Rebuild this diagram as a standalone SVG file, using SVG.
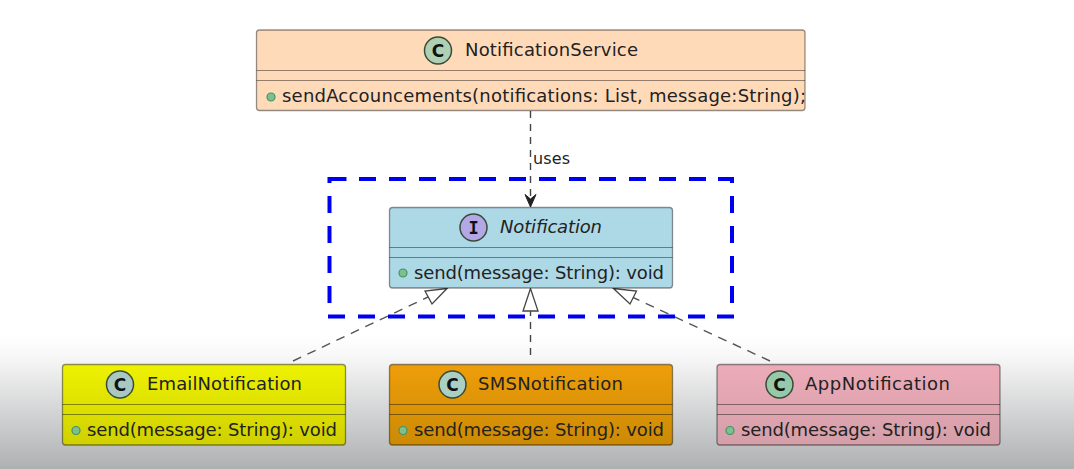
<svg xmlns="http://www.w3.org/2000/svg" width="1074" height="469" viewBox="0 0 1074 469">
<style>
text{font-family:"DejaVu Sans",sans-serif;fill:#222;font-size:18px}
.box{stroke:#000;stroke-opacity:.42;stroke-width:1.3}
.sep{stroke:#000;stroke-opacity:.42;stroke-width:1.2;fill:none}
.icon{stroke:#3a4a3a;stroke-width:1.5}
text.glyph{font-weight:bold;font-size:17px;text-anchor:middle;fill:#111}
text.mono{font-family:"DejaVu Sans Mono",monospace}
.dot{fill:#7fbf8c;stroke:#3f9468;stroke-width:1.2}
.dep{fill:none;stroke:#444;stroke-width:1.4}
.vert{stroke-dasharray:7 6}
.diag{stroke:#555;stroke-dasharray:9 7}
.tri{fill:#fff;stroke:#444;stroke-width:1.3}
.hl{fill:none;stroke:#0000f0;stroke-width:4}
.hld{stroke-dasharray:17 13}
</style>
<defs>
<linearGradient id="bg" gradientUnits="userSpaceOnUse" x1="0" y1="335" x2="0" y2="469">
<stop offset="0" stop-color="#fff"/>
<stop offset=".15" stop-color="#f8f8f8"/>
<stop offset="1" stop-color="#aeb0b2"/>
</linearGradient>
<linearGradient id="yellow" x1="0" y1="0" x2="0" y2="1"><stop offset="0" stop-color="#eef200"/><stop offset="1" stop-color="#cfd000"/></linearGradient>
<linearGradient id="orange" x1="0" y1="0" x2="0" y2="1"><stop offset="0" stop-color="#ee9e0a"/><stop offset="1" stop-color="#cc8a04"/></linearGradient>
<linearGradient id="pink" x1="0" y1="0" x2="0" y2="1"><stop offset="0" stop-color="#edabb8"/><stop offset="1" stop-color="#d49fa9"/></linearGradient>
</defs>
<rect width="1074" height="469" fill="url(#bg)"/>
<g id="connectors">
<path class="dep vert" d="M530.500 111V200"/>
<path d="M530.500 207L525 194.500L530.500 199L536 194.500Z" fill="#222" stroke="#222" stroke-width="1"/>
<path class="dep diag" d="M293 361L428 297"/>
<path class="tri" d="M447 288.500L425 291L432 304Z"/>
<path class="dep vert" d="M530.500 355V311"/>
<path class="tri" d="M530.500 288.500L523 311H538Z"/>
<path class="dep diag" d="M770 361L632 297"/>
<path class="tri" d="M613.500 288.500L636.500 291L630 304Z"/>
<text x="533" y="164" style="font-size:16px" textLength="37">uses</text>
</g>
<g id="highlight">
<path class="hl" d="M346.500 179H329.500V183"/>
<path class="hl hld" d="M359 179H707"/>
<path class="hl" d="M718 179H732V183"/>
<path class="hl hld" d="M329.500 196V303"/>
<path class="hl hld" d="M732 196V303"/>
<path class="hl hld" d="M328 316.500H706"/>
<path class="hl" d="M717 316.500H734"/>
</g>
<g id="NotificationService">
<rect class="box" x="256.500" y="30" width="548.500" height="80.500" rx="3" fill="#ffdab9"/>
<path class="sep" d="M256.500 70.500H805M256.500 80.500H805"/>
<circle class="icon" cx="438" cy="50.500" r="13.500" fill="#add1b2"/>
<text class="glyph" x="438" y="56.500">C</text>
<text x="465" y="56" textLength="173">NotificationService</text>
<circle class="dot" cx="271" cy="97" r="4"/>
<text x="282" y="102" textLength="524">sendAccouncements(notifications: List, message:String);</text>
</g>
<g id="Notification">
<rect class="box" x="389.500" y="207.500" width="283" height="80.500" rx="3" fill="#add8e6"/>
<path class="sep" d="M389.500 247.500H672.500M389.500 257.500H672.500"/>
<circle class="icon" cx="473.500" cy="227.500" r="13.500" fill="#b4a7e5"/>
<text class="glyph mono" x="473.500" y="233.500">I</text>
<text x="500" y="233" font-style="italic" textLength="102">Notification</text>
<circle class="dot" cx="403" cy="273" r="4"/>
<text x="414" y="279" textLength="250">send(message: String): void</text>
</g>
<g id="EmailNotification">
<rect class="box" x="62.500" y="364.500" width="283" height="80.500" rx="3" fill="url(#yellow)"/>
<path class="sep" d="M62.500 404.500H345.500M62.500 414.500H345.500"/>
<circle class="icon" cx="120" cy="384.500" r="13.500" fill="#a9c8c2"/>
<text class="glyph" x="120" y="390.500">C</text>
<text x="147" y="390" textLength="155">EmailNotification</text>
<circle class="dot" cx="76" cy="430.500" r="4"/>
<text x="87" y="436" textLength="250">send(message: String): void</text>
</g>
<g id="SMSNotification">
<rect class="box" x="389.500" y="364.500" width="283" height="80.500" rx="3" fill="url(#orange)"/>
<path class="sep" d="M389.500 404.500H672.500M389.500 414.500H672.500"/>
<circle class="icon" cx="452.500" cy="384.500" r="13.500" fill="#a9d0c3"/>
<text class="glyph" x="452.500" y="390.500">C</text>
<text x="478" y="390" textLength="145">SMSNotification</text>
<circle class="dot" cx="403" cy="430.500" r="4"/>
<text x="414" y="436" textLength="250">send(message: String): void</text>
</g>
<g id="AppNotification">
<rect class="box" x="717" y="364.500" width="283" height="80.500" rx="3" fill="url(#pink)"/>
<path class="sep" d="M717 404.500H1000M717 414.500H1000"/>
<circle class="icon" cx="779.500" cy="384.500" r="13.500" fill="#97c9a8"/>
<text class="glyph" x="779.500" y="390.500">C</text>
<text x="805" y="390" textLength="145">AppNotification</text>
<circle class="dot" cx="730" cy="430.500" r="4"/>
<text x="741" y="436" textLength="250">send(message: String): void</text>
</g>
</svg>
